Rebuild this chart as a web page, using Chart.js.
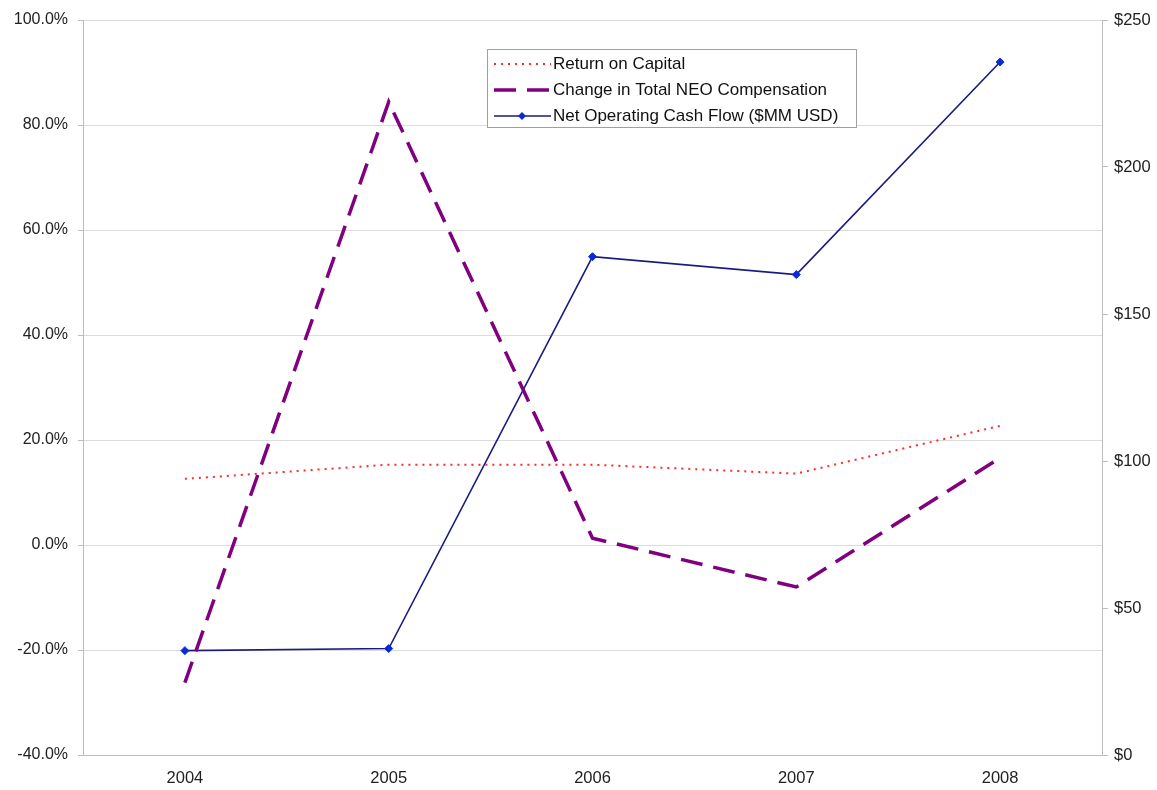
<!DOCTYPE html>
<html><head><meta charset="utf-8">
<script src="https://cdn.jsdelivr.net/npm/chart.js@4/dist/chart.umd.min.js"></script>
<style>html,body{margin:0;padding:0;background:#fff}#wrap{width:1157px;height:790px}</style>
</head><body><div id="wrap"><canvas id="c" width="1157" height="790"></canvas></div>
<script>
const years = ['2004','2005','2006','2007','2008'];
const returnOnCapital = [12.6, 15.3, 15.3, 13.6, 22.7];
const changeNEOComp = [-26.2, 84.4, 1.3, -8.0, 16.6];
const netOpCashFlow = [35.5, 36.2, 169.5, 163.4, 235.7];
const seriesNames = ['Return on Capital','Change in Total NEO Compensation','Net Operating Cash Flow ($MM USD)'];

const FONT = 'Liberation Sans, Arial, sans-serif';

const boxLegend = {
  id:'boxLegend',
  afterDraw(chart){
    const ctx = chart.ctx;
    const x0 = 487, y0 = 49, w = 369, h = 78;
    ctx.save();
    ctx.fillStyle = '#fff';
    ctx.fillRect(x0,y0,w,h);
    ctx.strokeStyle = '#a0a0a0';
    ctx.lineWidth = 1;
    ctx.strokeRect(x0+0.5,y0+0.5,w,h);
    const rows = [64, 90, 116];
    chart.data.datasets.forEach((ds,i)=>{
      const y = rows[i];
      ctx.beginPath();
      ctx.strokeStyle = ds.borderColor;
      ctx.lineWidth = ds.borderWidth;
      ctx.setLineDash(ds.borderDash || []);
      ctx.moveTo(494,y); ctx.lineTo(551,y);
      ctx.stroke();
      ctx.setLineDash([]);
      if (ds.pointRadius > 0){
        ctx.fillStyle = ds.pointBackgroundColor;
        ctx.beginPath();
        ctx.moveTo(522,y-4);ctx.lineTo(526,y);ctx.lineTo(522,y+4);ctx.lineTo(518,y);ctx.closePath();
        ctx.fill();
      }
      ctx.fillStyle = '#111';
      ctx.font = '17px ' + FONT;
      ctx.textBaseline = 'middle';
      ctx.fillText(ds.label, 553, y);
    });
    ctx.restore();
  }
};

new Chart(document.getElementById('c'), {
  type:'line',
  data:{
    labels: years,
    datasets:[
      {label:seriesNames[0], data:returnOnCapital, yAxisID:'y', borderColor:'#ff2a2a', borderWidth:2, borderDash:[2,5], pointRadius:0, fill:false, tension:0},
      {label:seriesNames[1], data:changeNEOComp, yAxisID:'y', borderColor:'#800080', borderWidth:3.5, borderDash:[22,11], pointRadius:0, fill:false, tension:0},
      {label:seriesNames[2], data:netOpCashFlow, yAxisID:'y1', borderColor:'#1a1a80', borderWidth:1.6, pointRadius:4, pointStyle:'rectRot', pointBackgroundColor:'#0a2ad8', pointBorderColor:'#0a2ad8', pointBorderWidth:1, fill:false, tension:0}
    ]
  },
  options:{
    responsive:false, animation:false,
    layout:{padding:{top:20, bottom:0, left:0, right:0}},
    plugins:{legend:{display:false}, tooltip:{enabled:false}},
    scales:{
      x:{
        offset:true,
        grid:{display:false, drawTicks:false},
        border:{display:true, color:'#bdbdbd', width:1},
        ticks:{color:'#222', font:{family:FONT, size:16.5}, padding:14},
        afterFit(s){ s.height = 35; }
      },
      y:{
        position:'left', min:-40, max:100,
        ticks:{stepSize:20, color:'#222', font:{family:FONT, size:16}, padding:10, callback:v=>v.toFixed(1)+'%'},
        grid:{color:'#dcdcdc', lineWidth:1, tickLength:5, tickColor:'#bdbdbd'},
        border:{color:'#bdbdbd', width:1},
        afterFit(s){ s.width = 83; }
      },
      y1:{
        position:'right', min:0, max:250,
        ticks:{stepSize:50, color:'#222', font:{family:FONT, size:16.5}, padding:6, callback:v=>'$'+v},
        grid:{drawOnChartArea:false, tickLength:6, tickColor:'#bdbdbd'},
        border:{color:'#bdbdbd', width:1},
        afterFit(s){ s.width = 55; }
      }
    }
  },
  plugins:[boxLegend]
});
</script></body></html>
